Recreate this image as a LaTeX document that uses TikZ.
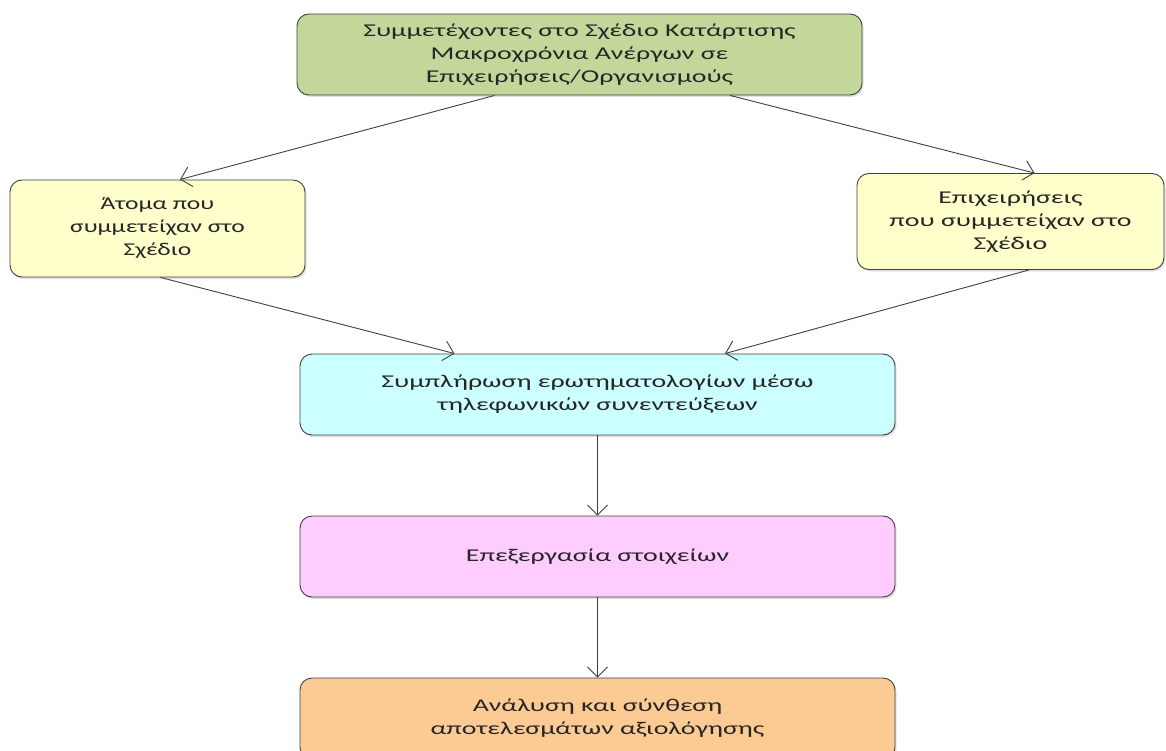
\documentclass[tikz,border=0pt]{standalone}
\usepackage{fontspec}
\setmainfont{Carlito}[FakeStretch=1.55]
\newfontfamily\narrowf{Carlito}[FakeStretch=1.42]
\usetikzlibrary{arrows.meta,calc,shadows}
\definecolor{cgreen}{HTML}{C4D79B}
\definecolor{cyellow}{HTML}{FFFFCC}
\definecolor{ccyan}{HTML}{CCFFFF}
\definecolor{cpink}{HTML}{FFCCFF}
\definecolor{corange}{HTML}{FCCB94}
\definecolor{cline}{HTML}{404040}
\definecolor{ctext}{HTML}{262626}
\tikzset{
  box/.style={draw=cline, line width=0.9pt, rounded corners=12pt, align=center,
    text=ctext, font=\fontsize{18}{23}\selectfont, inner sep=0pt,
    drop shadow={shadow xshift=1.5pt, shadow yshift=-2pt, opacity=0.25}},
  conn/.style={draw=cline, line width=0.9pt, -{Straight Barb[length=10pt,width=20pt,line width=0.9pt]}}
}
\begin{document}
\begin{tikzpicture}[x=1pt,y=-1pt]
\useasboundingbox (0,0) rectangle (1166,751);
\node[box, fill=cgreen, minimum width=565pt, minimum height=81pt] (top) at (579.5,54.5)
  {Συμμετέχοντες στο Σχέδιο Κατάρτισης\\Μακροχρόνια Ανέργων σε\\Επιχειρήσεις/Οργανισμούς};
\node[box, fill=cyellow, minimum width=295pt, minimum height=97pt, font=\narrowf\fontsize{18}{23}\selectfont] (left) at (157.5,228.5)
  {Άτομα που\\συμμετείχαν στο\\Σχέδιο};
\node[box, fill=cyellow, minimum width=307pt, minimum height=96pt] (right) at (1010.5,221.5)
  {Επιχειρήσεις\\που συμμετείχαν στο\\Σχέδιο};
\node[box, fill=ccyan, minimum width=595pt, minimum height=81pt] (mid) at (597.5,394.5)
  {Συμπλήρωση ερωτηματολογίων μέσω\\τηλεφωνικών συνεντεύξεων};
\node[box, fill=cpink, minimum width=595pt, minimum height=81pt] (proc) at (597.5,556.5)
  {Επεξεργασία στοιχείων};
\node[box, fill=corange, minimum width=595pt, minimum height=81pt] (res) at (597.5,718.5)
  {Ανάλυση και σύνθεση\\αποτελεσμάτων αξιολόγησης};
\draw[conn] ($(top.south west)!0.35!(top.south east)$) -- ($(left.north west)!0.576!(left.north east)$);
\draw[conn] ($(top.south west)!0.766!(top.south east)$) -- ($(right.north west)!0.578!(right.north east)$);
\draw[conn] ($(left.south west)!0.51!(left.south east)$) -- ($(mid.north west)!0.26!(mid.north east)$);
\draw[conn] ($(right.south west)!0.56!(right.south east)$) -- ($(mid.north west)!0.714!(mid.north east)$);
\draw[conn] (mid.south) -- (proc.north);
\draw[conn] (proc.south) -- (res.north);
\end{tikzpicture}
\end{document}
